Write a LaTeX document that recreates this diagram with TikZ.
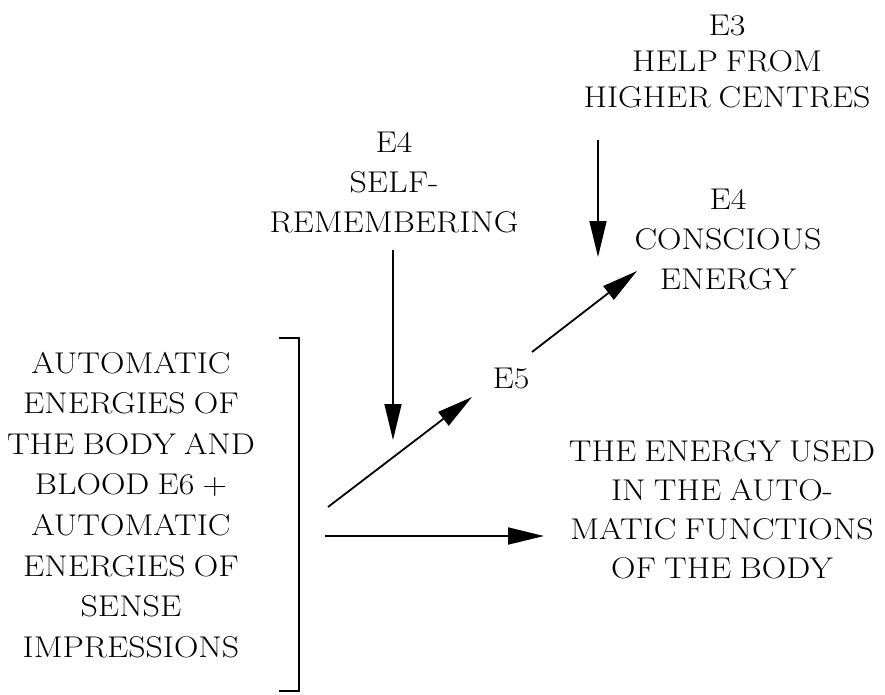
\documentclass[tikz,border=0pt]{standalone}
\usepackage{fontspec}
\setmainfont{Latin Modern Roman}[FakeStretch=1.13, WordSpace=0.8]
\usetikzlibrary{arrows.meta}
\begin{document}
\begin{tikzpicture}[x=1pt,y=-1pt,
  lbl/.style={font=\fontsize{30}{40}\selectfont, align=center, inner sep=0pt},
  arr/.style={-{Triangle[length=36pt,width=17pt]}, line width=1.8pt},
  brk/.style={line width=2pt},
]
\useasboundingbox (0,0) rectangle (885,694);
% text blocks
\node[lbl, font=\fontsize{30}{40.6}\selectfont] (src) at (131,504.75)
  {AUTOMATIC\\ENERGIES OF\\THE BODY AND\\BLOOD E6 +\\AUTOMATIC\\ENERGIES OF\\SENSE\\IMPRESSIONS};
\node[lbl, font=\fontsize{30}{36}\selectfont] (help) at (727,61.75)
  {E3\\HELP FROM\\HIGHER CENTRES};
\node[lbl] (consc) at (728,239.75) {E4\\CONSCIOUS\\ENERGY};
\node[lbl] (selfrem) at (394,182.75) {E4\\SELF-\\REMEMBERING};
\node[lbl] (e5) at (511,378.5) {E5};
\node[lbl, font=\fontsize{30}{38.7}\selectfont] (used) at (722,509.75)
  {THE ENERGY USED\\IN THE AUTO-\\MATIC FUNCTIONS\\OF THE BODY};
% connector ends
\coordinate (helpA) at (598,140);
\coordinate (helpB) at (598,257);
\coordinate (e5A) at (532,352);
\coordinate (conscB) at (637,271);
\coordinate (selfA) at (393,250);
\coordinate (selfB) at (393,440);
\coordinate (srcA) at (328,507);
\coordinate (e5B) at (472,397);
\coordinate (srcC) at (325,536);
\coordinate (usedB) at (544,536);
\coordinate (bk1) at (279,338);
\coordinate (bk2) at (299,338);
\coordinate (bk3) at (299,691);
\coordinate (bk4) at (279,691);
% bracket
\draw[brk] (bk1) -- (bk2) -- (bk3) -- (bk4);
% arrows
\draw[arr, line width=1.5pt] (helpA) -- (helpB);
\draw[arr] (e5A) -- (conscB);
\draw[arr, line width=1.5pt] (selfA) -- (selfB);
\draw[arr] (srcA) -- (e5B);
\draw[arr] (srcC) -- (usedB);
\end{tikzpicture}
\end{document}
